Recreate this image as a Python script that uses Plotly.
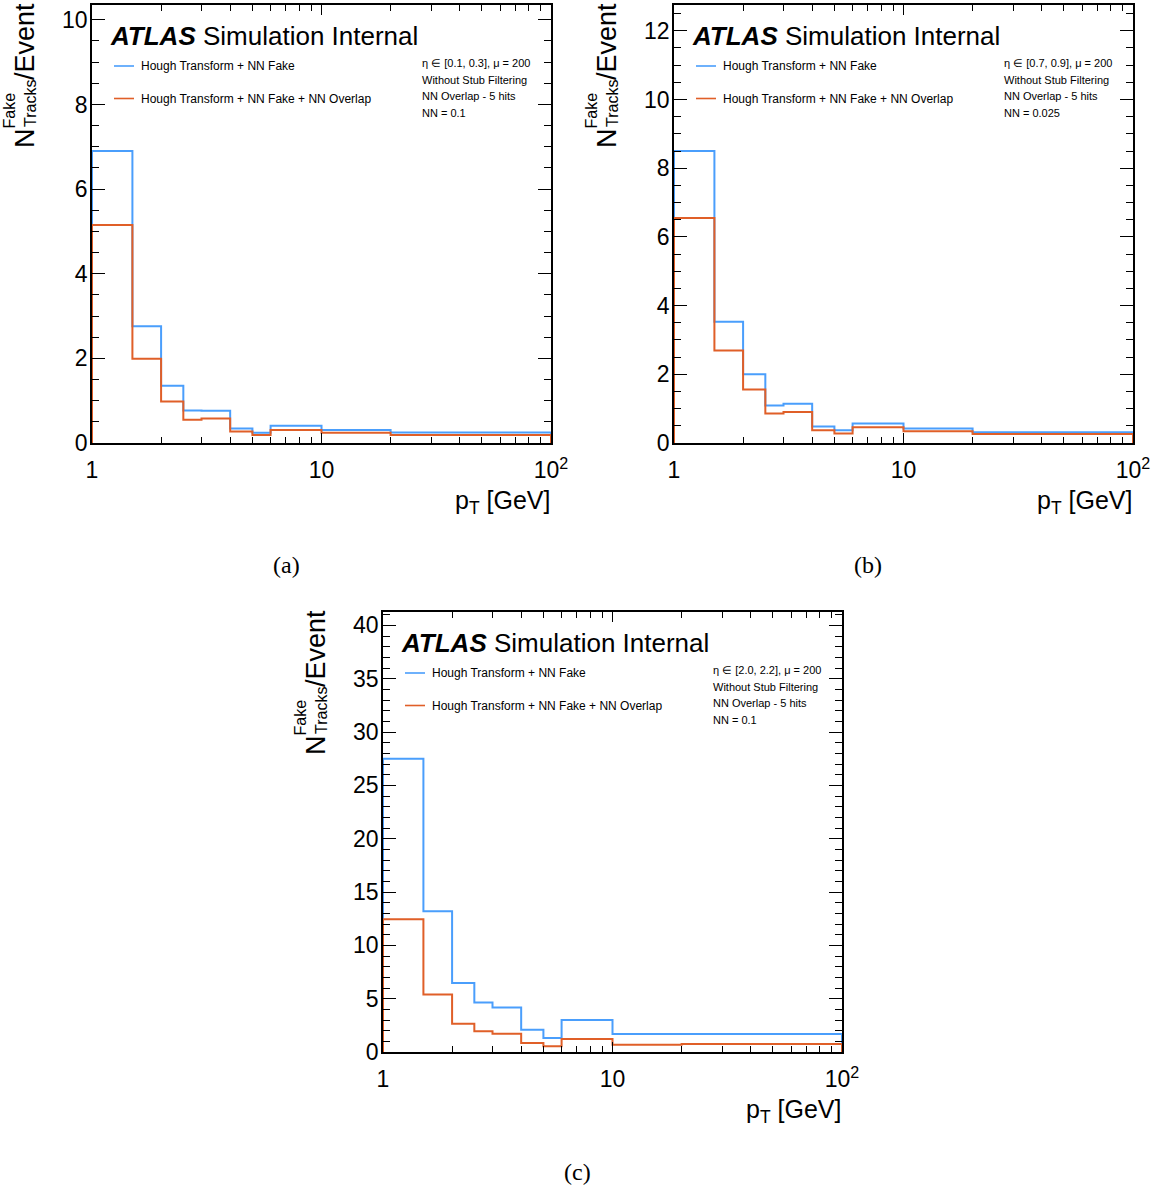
import plotly.graph_objects as go

W, H = 1164, 1190

# pT bin edges [GeV], shared by all three panels
pt_edges = [1, 1.5, 2, 2.5, 3, 4, 5, 6, 10, 20, 100]

series_names = ["Hough Transform + NN Fake", "Hough Transform + NN Fake + NN Overlap"]
series_colors = ["#4a9efc", "#e05f28"]

# fake tracks per event, per pT bin
fake_a = [6.90, 2.76, 1.35, 0.77, 0.76, 0.34, 0.24, 0.41, 0.31, 0.25]
overlap_a = [5.15, 1.99, 0.98, 0.55, 0.58, 0.27, 0.19, 0.31, 0.24, 0.19]
fake_b = [8.50, 3.53, 2.00, 1.09, 1.14, 0.48, 0.37, 0.57, 0.42, 0.31]
overlap_b = [6.55, 2.69, 1.56, 0.86, 0.90, 0.37, 0.28, 0.46, 0.34, 0.26]
fake_c = [27.5, 13.2, 6.46, 4.65, 4.18, 2.09, 1.31, 3.00, 1.68, 1.68]
overlap_c = [12.45, 5.40, 2.65, 1.94, 1.72, 0.84, 0.53, 1.22, 0.68, 0.74]

info_a = ["η ∈ [0.1, 0.3], μ = 200", "Without Stub Filtering", "NN Overlap - 5 hits", "NN = 0.1"]
info_b = ["η ∈ [0.7, 0.9], μ = 200", "Without Stub Filtering", "NN Overlap - 5 hits", "NN = 0.025"]
info_c = ["η ∈ [2.0, 2.2], μ = 200", "Without Stub Filtering", "NN Overlap - 5 hits", "NN = 0.1"]

x_ticks = [1, 10, 100]
x_ticktext = ["1", "10", "10<sup style='font-size:15px'>2</sup>"]
x_minor = [2, 3, 4, 5, 6, 7, 8, 9, 20, 30, 40, 50, 60, 70, 80, 90]

# panel frames in pixels: left, top, right, bottom
panels = [
    dict(box=(92, 5, 551, 443), series=[fake_a, overlap_a], info=info_a, dtick=2, minor=0.5,
         caption="(a)", cap_pos=(286, 565)),
    dict(box=(674, 5, 1133, 443), series=[fake_b, overlap_b], info=info_b, dtick=2, minor=0.5,
         caption="(b)", cap_pos=(868, 565)),
    dict(box=(383, 612, 842, 1052), series=[fake_c, overlap_c], info=info_c, dtick=5, minor=1,
         caption="(c)", cap_pos=(577, 1172)),
]

FONT = "Liberation Sans, Arial, sans-serif"


def px(x):
    return x / W


def py(y):
    return 1 - y / H


def step_xy(edges, vals):
    xs = [edges[0]] + list(edges[:-1]) + [edges[-1], edges[-1]]
    ys = [0] + list(vals) + [vals[-1], 0]
    return xs, ys


fig = go.Figure()
annotations = []
shapes = []

for i, p in enumerate(panels):
    n = "" if i == 0 else str(i + 1)
    L, T, R, B = p["box"]
    ymax = 1.5 * max(max(s) for s in p["series"])

    for vals, name, col in zip(p["series"], series_names, series_colors):
        xs, ys = step_xy(pt_edges, vals)
        fig.add_trace(go.Scatter(
            x=xs, y=ys, mode="lines", line=dict(color=col, width=2, shape="hv"),
            name=name, showlegend=False, xaxis="x" + n, yaxis="y" + n,
        ))

    fig.update_layout({
        "xaxis" + n: dict(
            type="log", range=[0, 2], domain=[px(L), px(R)], anchor="y" + n,
            automargin=False,
            tickvals=x_ticks, ticktext=x_ticktext, ticks="inside", ticklen=10,
            tickwidth=1.3, tickcolor="black", showline=True, linecolor="black",
            linewidth=1.6, mirror="ticks", showgrid=False, zeroline=False,
            minor=dict(ticks="inside", ticklen=6, tickvals=x_minor, tickcolor="black",
                       tickwidth=1.1, showgrid=False),
            tickfont=dict(family=FONT, size=23, color="black"), ticklabelstandoff=6,
        ),
        "yaxis" + n: dict(
            range=[0, ymax], domain=[py(B), py(T)], anchor="x" + n,
            automargin=False,
            tick0=0, dtick=p["dtick"], ticks="inside", ticklen=13, tickwidth=1.3,
            tickcolor="black", showline=True, linecolor="black", linewidth=1.6,
            mirror="ticks", showgrid=False, zeroline=False,
            minor=dict(ticks="inside", ticklen=7, dtick=p["minor"], tickcolor="black",
                       tickwidth=1.1, showgrid=False),
            tickfont=dict(family=FONT, size=23, color="black"), ticklabelstandoff=-2,
        ),
    })

    # ATLAS label
    annotations.append(dict(
        x=px(L + 16), y=py(T + 31), xref="paper", yref="paper", xanchor="left",
        yanchor="middle", showarrow=False,
        text="<b><i>ATLAS</i></b> Simulation Internal",
        font=dict(family=FONT, size=26, color="black"),
    ))

    # legend entries
    for k, (name, col) in enumerate(zip(series_names, series_colors)):
        yy = T + 61 + 32.5 * k
        shapes.append(dict(type="line", xref="paper", yref="paper",
                           x0=px(L + 22), x1=px(L + 42), y0=py(yy), y1=py(yy),
                           line=dict(color=col, width=1.6)))
        annotations.append(dict(
            x=px(L + 47), y=py(yy), xref="paper", yref="paper", xanchor="left",
            yanchor="middle", showarrow=False, text=name,
            font=dict(family=FONT, size=12, color="black"),
        ))

    # selection info
    for k, line in enumerate(p["info"]):
        annotations.append(dict(
            x=px(L + 328), y=py(T + 58 + 16.7 * k), xref="paper", yref="paper",
            xanchor="left", yanchor="middle", showarrow=False, text=line,
            font=dict(family=FONT, size=11, color="black"),
        ))

    # x-axis title
    annotations.append(dict(
        x=px(R + 1), y=py(B + 59), xref="paper", yref="paper", xanchor="right",
        yanchor="middle", showarrow=False, text="p<sub>T</sub> [GeV]",
        font=dict(family=FONT, size=25, color="black"),
    ))

    # y-axis title: N with stacked Fake / Tracks scripts, then /Event
    ytitle = [
        ("N", 27, -67, 133),
        ("Fake", 16, -83, 105.5),
        ("Tracks", 16, -62, 99),
        ("/Event", 27, -67, 37),
    ]
    for txt, fs, dx, dy in ytitle:
        annotations.append(dict(
            x=px(L + dx), y=py(T + dy), xref="paper", yref="paper", xanchor="center",
            yanchor="middle", showarrow=False, text=txt, textangle=-90,
            font=dict(family=FONT, size=fs, color="black"),
        ))

    # sub-figure caption
    cx, cy = p["cap_pos"]
    annotations.append(dict(
        x=px(cx), y=py(cy), xref="paper", yref="paper", xanchor="center",
        yanchor="middle", showarrow=False, text=p["caption"],
        font=dict(family="Liberation Serif, serif", size=24, color="black"),
    ))

fig.update_layout(
    width=W, height=H, margin=dict(l=0, r=0, t=0, b=0, pad=0),
    paper_bgcolor="white", plot_bgcolor="white",
    annotations=annotations, shapes=shapes, showlegend=False,
)

fig.write_html("out.html")
